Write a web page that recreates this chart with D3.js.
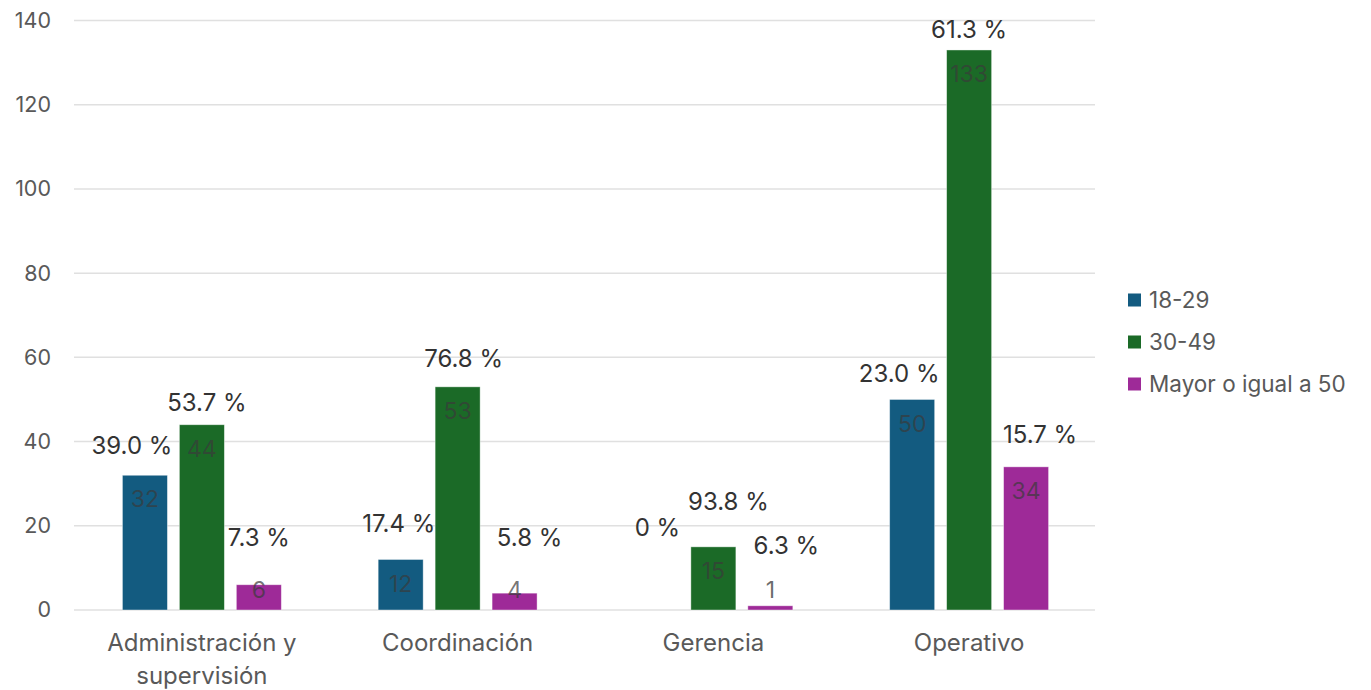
<!DOCTYPE html>
<html>
<head>
<meta charset="utf-8">
<script src="https://cdn.jsdelivr.net/npm/d3@7"></script>
<style>
  html, body { margin: 0; padding: 0; background: #ffffff; }
  svg { display: block; }
  text { font-family: Inter, "Open Sans", "Liberation Sans", sans-serif; }
</style>
</head>
<body>
<svg id="chart" width="1371" height="690"></svg>
<script>
// ---- data ----
const categories = ["Administración y\nsupervisión", "Coordinación", "Gerencia", "Operativo"];
const seriesNames = ["18-29", "30-49", "Mayor o igual a 50"];
const values1829 = [32, 12, 0, 50];
const values3049 = [44, 53, 15, 133];
const values50 = [6, 4, 1, 34];
const yTicks = [0, 20, 40, 60, 80, 100, 120, 140];

// ---- styles (not data) ----
const colors = ["#135b80", "#1b6a27", "#9e2a98"];
// nudges of the percent labels, per series then category: [dx, dy above bar top]
const pctNudge = [
  [[-13, -30], [-2, -36], [1, -82], [-13, -26]],
  [[5, -22], [6, -28], [15, -45], [0, -20]],
  [[0, -47], [15, -56], [16, -60], [14, -32]]
];

const seriesValues = [values1829, values3049, values50];
const svg = d3.select("#chart");

const y = d3.scaleLinear().domain([0, 140]).range([610, 20.5]);
const x0 = d3.scaleBand().domain(categories).range([74, 1097]).paddingInner(0).paddingOuter(0);
const x1 = d3.scaleBand().domain(seriesNames).range([0, x0.bandwidth()]).paddingInner(0.21).paddingOuter(0.85);

// gridlines
svg.append("g").selectAll("line").data(yTicks).join("line")
  .attr("x1", 74).attr("x2", 1095)
  .attr("y1", d => y(d)).attr("y2", d => y(d))
  .attr("stroke", "#e0e0e0").attr("stroke-width", 1.5);

// y axis labels
const yAxis = d3.axisLeft(y).tickValues(yTicks).tickSize(0).tickPadding(0);
const yg = svg.append("g").attr("transform", "translate(51,0)").call(yAxis);
yg.select(".domain").remove();
yg.selectAll("text").attr("font-size", 21.5).attr("fill", "#595959")
  .style("font-family", 'Inter, "Open Sans", sans-serif');

// x axis labels
const xg = svg.append("g");
categories.forEach(c => {
  const lines = c.split("\n");
  const t = xg.append("text")
    .attr("x", x0(c) + x0.bandwidth() / 2)
    .attr("y", 651)
    .attr("text-anchor", "middle")
    .attr("font-size", 24)
    .attr("fill", "#595959");
  lines.forEach((l, i) => {
    t.append("tspan").attr("x", x0(c) + x0.bandwidth() / 2).attr("dy", i === 0 ? 0 : 33).text(l);
  });
});

// bars
const totals = categories.map((c, ci) => seriesValues.reduce((s, arr) => s + arr[ci], 0));
const bars = svg.append("g");
const labels = svg.append("g");
seriesNames.forEach((s, si) => {
  const vals = seriesValues[si];
  categories.forEach((c, ci) => {
    const v = vals[ci];
    const bx = x0(c) + x1(s);
    const bw = x1.bandwidth();
    const top = y(v);
    if (v > 0) {
      bars.append("rect")
        .attr("x", bx).attr("y", top)
        .attr("width", bw).attr("height", y(0) - top)
        .attr("fill", colors[si])
        .attr("stroke", "#ffffff").attr("stroke-opacity", 0.5).attr("stroke-width", 0.8);
      // value label
      const vy = Math.min(top + 24, y(0) - 20);
      labels.append("text")
        .attr("x", bx + bw / 2).attr("y", vy)
        .attr("dy", "0.35em")
        .attr("text-anchor", "middle")
        .attr("font-size", 23)
        .attr("fill", "#3a3a3a").attr("fill-opacity", v < 3 ? 0.75 : 0.7)
        .text(v);
    }
    // percent label
    const p = totals[ci] ? v / totals[ci] * 100 : 0;
    const pct = p === 0 ? "0 %" : p.toFixed(1) + " %";
    const nd = pctNudge[si][ci];
    labels.append("text")
      .attr("x", bx + bw / 2 + nd[0]).attr("y", top + nd[1])
      .attr("dy", "0.35em")
      .attr("text-anchor", "middle")
      .attr("font-size", 24)
      .attr("fill", "#333333")
      .text(pct);
  });
});

// legend
const lg = svg.append("g");
seriesNames.forEach((s, i) => {
  const ly = 300 + i * 42;
  lg.append("rect").attr("x", 1128).attr("y", ly - 6.5).attr("width", 13).attr("height", 13).attr("fill", colors[i]);
  lg.append("text").attr("x", 1149).attr("y", ly).attr("dy", "0.35em")
    .attr("font-size", 22.5).attr("fill", "#595959").text(s);
});
</script>
</body>
</html>
